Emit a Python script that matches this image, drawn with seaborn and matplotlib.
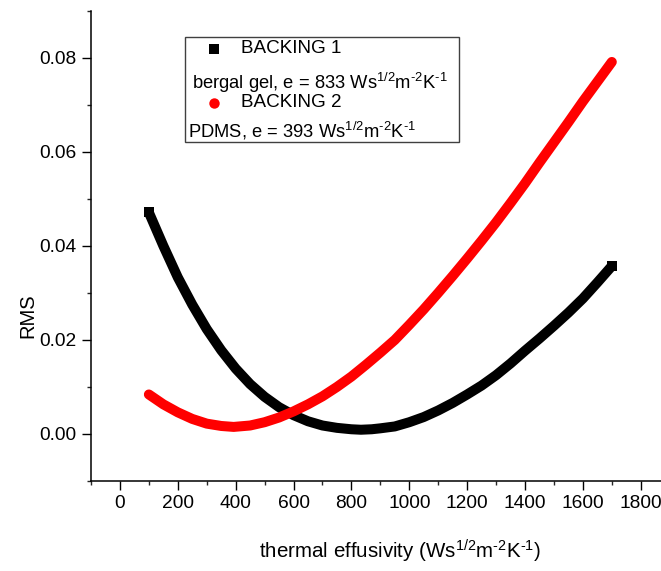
import matplotlib
matplotlib.use("Agg")
import matplotlib.pyplot as plt
from matplotlib.patches import Rectangle
from matplotlib.lines import Line2D
from matplotlib.ticker import MultipleLocator, FormatStrFormatter
import seaborn as sns
import pandas as pd

# ---- data ----
backing1_x = [100, 150, 200, 250, 300, 350, 400, 450, 500, 550, 600, 650, 700, 750, 800,
              833, 870, 900, 950, 1000, 1050, 1100, 1150, 1200, 1250, 1300, 1350, 1400,
              1450, 1500, 1550, 1600, 1650, 1700]
backing1_y = [0.0471, 0.0400, 0.0333, 0.0275, 0.0223, 0.0178, 0.0139, 0.0106, 0.0079,
              0.0057, 0.0040, 0.0027, 0.0018, 0.0013, 0.0010, 0.0009, 0.0010, 0.0012,
              0.0016, 0.0025, 0.0036, 0.0050, 0.0066, 0.0084, 0.0103, 0.0125, 0.0150,
              0.0177, 0.0203, 0.0230, 0.0258, 0.0288, 0.0322, 0.0357]
backing2_x = [100, 150, 200, 250, 300, 350, 393, 450, 500, 550, 600, 650, 700, 750, 800,
              850, 900, 950, 1000, 1050, 1100, 1150, 1200, 1250, 1300, 1350, 1400, 1450,
              1500, 1550, 1600, 1650, 1700]
backing2_y = [0.0084, 0.0063, 0.0046, 0.0032, 0.0022, 0.0017, 0.0015, 0.0018, 0.0025,
              0.0035, 0.0048, 0.0063, 0.0080, 0.0100, 0.0122, 0.0147, 0.0173, 0.0200,
              0.0232, 0.0265, 0.0300, 0.0336, 0.0373, 0.0411, 0.0450, 0.0491, 0.0533,
              0.0577, 0.0620, 0.0663, 0.0707, 0.0749, 0.0791]
series_names = ["BACKING 1", "BACKING 2"]
HY = "\u2010"
legend_notes = [r"bergal gel, e = 833 Ws$^{1/2}$m$^{" + HY + r"2}$K$^{" + HY + r"1}$",
                r"PDMS, e = 393 Ws$^{1/2}$m$^{" + HY + r"2}$K$^{" + HY + r"1}$"]
x_ticks = [0, 200, 400, 600, 800, 1000, 1200, 1400, 1600, 1800]
y_ticks = [0.00, 0.02, 0.04, 0.06, 0.08]
x_label = r"thermal effusivity (Ws$^{1/2}$m$^{" + HY + r"2}$K$^{" + HY + r"1}$)"
y_label = "RMS"

sns.set_theme(style="ticks")
plt.rcParams["font.family"] = ["Liberation Sans", "DejaVu Sans"]
plt.rcParams["mathtext.fontset"] = "custom"
plt.rcParams["mathtext.rm"] = "Liberation Sans"
plt.rcParams["mathtext.it"] = "Liberation Sans:italic"
plt.rcParams["mathtext.bf"] = "Liberation Sans:bold"
plt.rcParams["mathtext.default"] = "regular"
plt.rcParams["text.color"] = "black"
plt.rcParams["axes.labelcolor"] = "black"

W, H = 661, 571
fig = plt.figure(figsize=(W / 100, H / 100), dpi=100)
ax_l, ax_r, ax_t, ax_b = 91, 661, 10.7, 481
ax = fig.add_axes([ax_l / W, 1 - ax_b / H, (ax_r - ax_l) / W, (ax_b - ax_t) / H])

df1 = pd.DataFrame({"x": backing1_x, "y": backing1_y})
df2 = pd.DataFrame({"x": backing2_x, "y": backing2_y})
sns.lineplot(data=df1, x="x", y="y", ax=ax, color="black", linewidth=7.2,
             marker="s", markevery=[0, len(backing1_x) - 1], markersize=7.2,
             markeredgewidth=0, sort=False)
sns.lineplot(data=df2, x="x", y="y", ax=ax, color="#ff0000", linewidth=7.2, sort=False)
lines = ax.get_lines()
lines[0].set_solid_capstyle("butt")
lines[0].set_solid_joinstyle("round")
lines[1].set_solid_capstyle("round")
lines[1].set_solid_joinstyle("round")

ax.set_xlim(-100, 1870)
ax.set_ylim(-0.01, 0.09)
ax.set_xticks(x_ticks)
ax.set_yticks(y_ticks)
ax.xaxis.set_minor_locator(MultipleLocator(100))
ax.yaxis.set_minor_locator(MultipleLocator(0.01))
ax.yaxis.set_major_formatter(FormatStrFormatter("%.2f"))
ax.tick_params(which="major", direction="out", length=6.3, width=1.0, labelsize=13.8,
               colors="black", pad=4)
ax.tick_params(which="minor", direction="out", length=3.2, width=1.0)
for s in ["top", "right"]:
    ax.spines[s].set_visible(False)
for s in ["left", "bottom"]:
    ax.spines[s].set_linewidth(1.1)
    ax.spines[s].set_color("black")

ax.set_xlabel(x_label, fontsize=14.8, color="black")
ax.set_ylabel(y_label, fontsize=14.5, color="black")
ax.xaxis.set_label_coords((400 - ax_l) / (ax_r - ax_l), -(551 - ax_b) / (ax_b - ax_t))
ax.yaxis.set_label_coords((28 - ax_l) / (ax_r - ax_l), (ax_b - 316) / (ax_b - ax_t))
ax.xaxis.label.set_va("center")
ax.yaxis.label.set_va("center")


def P(x, y):
    return x / W, 1 - y / H


# ---- legend box ----
bx0, by0, bx1, by1 = 185, 36.7, 459, 141.7
fig.add_artist(Rectangle(P(bx0, by1), (bx1 - bx0) / W, (by1 - by0) / H,
                         transform=fig.transFigure, fill=True, facecolor="white",
                         edgecolor="#404040", linewidth=1.0, zorder=5))
fig.add_artist(Line2D([P(214, 48.5)[0]], [P(214, 48.5)[1]], marker="s", markersize=6.8,
                      color="black", markeredgewidth=0, linestyle="none",
                      transform=fig.transFigure, zorder=6))
fig.add_artist(Line2D([P(214, 102.5)[0]], [P(214, 102.5)[1]], marker="o", markersize=7.5,
                      color="#ff0000", markeredgewidth=0, linestyle="none",
                      transform=fig.transFigure, zorder=6))
fs_leg = 13.6
fig.text(*P(241, 48.5), series_names[0], fontsize=fs_leg, va="center", ha="left", zorder=7)
fig.text(*P(192.5, 80), legend_notes[0], fontsize=13.2, va="center_baseline", ha="left", zorder=7)
fig.text(*P(241, 102.5), series_names[1], fontsize=fs_leg, va="center", ha="left", zorder=7)
fig.text(*P(188, 129), legend_notes[1], fontsize=13.2, va="center_baseline", ha="left", zorder=7)

fig.savefig("out.png", dpi=100, facecolor="white")
